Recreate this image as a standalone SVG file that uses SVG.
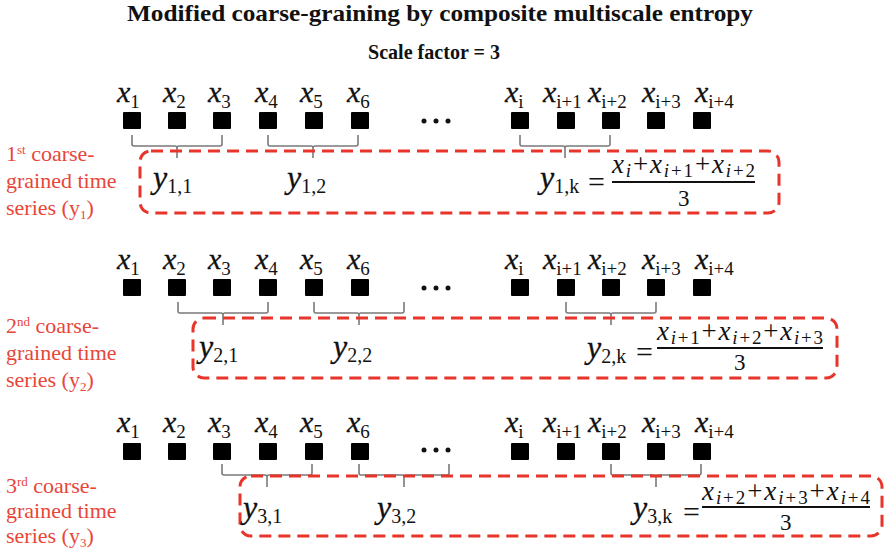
<svg xmlns="http://www.w3.org/2000/svg" xmlns:xlink="http://www.w3.org/1999/xlink" width="885" height="555" viewBox="0 0 885 555">
  <style>
    .title { font-family: "Liberation Serif", "Times New Roman", serif; font-weight: bold; fill: #111; }
    .xv { font-family: "Liberation Serif", "Times New Roman", serif; font-style: italic; font-size: 30px; fill: #111; stroke: #111; stroke-width: 0.3; }
    .xs { font-style: normal; font-size: 19px; stroke-width: 0; }
    .yv { font-family: "Liberation Serif", "Times New Roman", serif; font-style: italic; font-size: 32px; fill: #111; stroke: #111; stroke-width: 0.3; }
    .ys { font-style: normal; font-size: 20px; stroke-width: 0; }
    .num { font-family: "Liberation Serif", "Times New Roman", serif; font-style: italic; font-size: 27px; fill: #111; }
    .ns { font-size: 19px; }
    .up { font-style: normal; }
    .eq { font-family: "Liberation Serif", "Times New Roman", serif; font-size: 30px; fill: #111; }
    .den { font-family: "Liberation Serif", "Times New Roman", serif; font-size: 23px; fill: #111; }
    .lbl { font-family: "Liberation Serif", "Times New Roman", serif; font-size: 22px; fill: #e8463a; }
    .sup { font-size: 13px; }
    .bracket { fill: none; stroke: #7a7a7a; stroke-width: 1.6; }
    .box { fill: none; stroke: #e8342a; stroke-width: 3; stroke-dasharray: 12 7; }
    .bar { stroke: #111; stroke-width: 1.8; }
  </style>
  <defs>
    <rect id="sq" width="18" height="17" rx="1" fill="#000"/>
    <path id="br" d="M0 0 V9 Q0 11 2 11 H43 Q45 11 45 13 V23 M45 13 Q45 11 47 11 H88 Q90 11 90 9 V0"/>
    <g id="dots" fill="#111">
      <circle cx="0" cy="0" r="2.5"/>
      <circle cx="12" cy="0" r="2.5"/>
      <circle cx="24" cy="0" r="2.5"/>
    </g>
  </defs>

  <g id="title">
    <text class="title" x="127" y="21" font-size="24" textLength="626" lengthAdjust="spacingAndGlyphs">Modified coarse-graining by composite multiscale entropy</text>
    <text class="title" x="368" y="59" font-size="20" textLength="132" lengthAdjust="spacingAndGlyphs">Scale factor = 3</text>
  </g>

  <!-- Row 1: original series, scale 3, start at x1 -->
  <g id="row1">
    <g id="row1-samples">
      <use xlink:href="#sq" x="123" y="112"/><use xlink:href="#sq" x="168" y="112"/><use xlink:href="#sq" x="213" y="112"/>
      <use xlink:href="#sq" x="259" y="112"/><use xlink:href="#sq" x="305" y="112"/><use xlink:href="#sq" x="351" y="112"/>
      <use xlink:href="#dots" x="424" y="121"/>
      <use xlink:href="#sq" x="511" y="112"/><use xlink:href="#sq" x="557" y="112"/><use xlink:href="#sq" x="602" y="112"/>
      <use xlink:href="#sq" x="647" y="112"/><use xlink:href="#sq" x="693" y="112"/>
    </g>
    <g id="row1-labels">
      <text class="xv" x="117" y="102">x<tspan class="xs" dy="6">1</tspan></text>
      <text class="xv" x="163" y="102">x<tspan class="xs" dy="6">2</tspan></text>
      <text class="xv" x="208" y="102">x<tspan class="xs" dy="6">3</tspan></text>
      <text class="xv" x="255" y="102">x<tspan class="xs" dy="6">4</tspan></text>
      <text class="xv" x="300" y="102">x<tspan class="xs" dy="6">5</tspan></text>
      <text class="xv" x="347" y="102">x<tspan class="xs" dy="6">6</tspan></text>
      <text class="xv" x="505" y="102">x<tspan class="xs" dy="6">i</tspan></text>
      <text class="xv" x="543" y="102">x<tspan class="xs" dy="6">i+1</tspan></text>
      <text class="xv" x="588" y="102">x<tspan class="xs" dy="6">i+2</tspan></text>
      <text class="xv" x="642" y="102">x<tspan class="xs" dy="6">i+3</tspan></text>
      <text class="xv" x="695" y="102">x<tspan class="xs" dy="6">i+4</tspan></text>
    </g>
  </g>

  <!-- Row 2: shifted by one sample -->
  <g id="row2">
    <g id="row2-samples">
      <use xlink:href="#sq" x="123" y="279"/><use xlink:href="#sq" x="168" y="279"/><use xlink:href="#sq" x="213" y="279"/>
      <use xlink:href="#sq" x="259" y="279"/><use xlink:href="#sq" x="305" y="279"/><use xlink:href="#sq" x="351" y="279"/>
      <use xlink:href="#dots" x="424" y="288"/>
      <use xlink:href="#sq" x="511" y="279"/><use xlink:href="#sq" x="557" y="279"/><use xlink:href="#sq" x="602" y="279"/>
      <use xlink:href="#sq" x="647" y="279"/><use xlink:href="#sq" x="693" y="279"/>
    </g>
    <g id="row2-labels">
      <text class="xv" x="117" y="269">x<tspan class="xs" dy="6">1</tspan></text>
      <text class="xv" x="163" y="269">x<tspan class="xs" dy="6">2</tspan></text>
      <text class="xv" x="208" y="269">x<tspan class="xs" dy="6">3</tspan></text>
      <text class="xv" x="255" y="269">x<tspan class="xs" dy="6">4</tspan></text>
      <text class="xv" x="300" y="269">x<tspan class="xs" dy="6">5</tspan></text>
      <text class="xv" x="347" y="269">x<tspan class="xs" dy="6">6</tspan></text>
      <text class="xv" x="505" y="269">x<tspan class="xs" dy="6">i</tspan></text>
      <text class="xv" x="543" y="269">x<tspan class="xs" dy="6">i+1</tspan></text>
      <text class="xv" x="588" y="269">x<tspan class="xs" dy="6">i+2</tspan></text>
      <text class="xv" x="642" y="269">x<tspan class="xs" dy="6">i+3</tspan></text>
      <text class="xv" x="695" y="269">x<tspan class="xs" dy="6">i+4</tspan></text>
    </g>
  </g>

  <!-- Row 3: shifted by two samples -->
  <g id="row3">
    <g id="row3-samples">
      <use xlink:href="#sq" x="123" y="443"/><use xlink:href="#sq" x="168" y="443"/><use xlink:href="#sq" x="213" y="443"/>
      <use xlink:href="#sq" x="259" y="443"/><use xlink:href="#sq" x="305" y="443"/><use xlink:href="#sq" x="351" y="443"/>
      <use xlink:href="#dots" x="424" y="450"/>
      <use xlink:href="#sq" x="511" y="443"/><use xlink:href="#sq" x="557" y="443"/><use xlink:href="#sq" x="602" y="443"/>
      <use xlink:href="#sq" x="647" y="443"/><use xlink:href="#sq" x="693" y="443"/>
    </g>
    <g id="row3-labels">
      <text class="xv" x="117" y="432">x<tspan class="xs" dy="6">1</tspan></text>
      <text class="xv" x="163" y="432">x<tspan class="xs" dy="6">2</tspan></text>
      <text class="xv" x="208" y="432">x<tspan class="xs" dy="6">3</tspan></text>
      <text class="xv" x="255" y="432">x<tspan class="xs" dy="6">4</tspan></text>
      <text class="xv" x="300" y="432">x<tspan class="xs" dy="6">5</tspan></text>
      <text class="xv" x="347" y="432">x<tspan class="xs" dy="6">6</tspan></text>
      <text class="xv" x="505" y="432">x<tspan class="xs" dy="6">i</tspan></text>
      <text class="xv" x="543" y="432">x<tspan class="xs" dy="6">i+1</tspan></text>
      <text class="xv" x="588" y="432">x<tspan class="xs" dy="6">i+2</tspan></text>
      <text class="xv" x="642" y="432">x<tspan class="xs" dy="6">i+3</tspan></text>
      <text class="xv" x="695" y="432">x<tspan class="xs" dy="6">i+4</tspan></text>
    </g>
  </g>

  <!-- Averaging brackets: each groups three consecutive samples -->
  <g id="connectors" class="bracket">
    <use xlink:href="#br" x="132" y="135"/>
    <use xlink:href="#br" x="268" y="135"/>
    <use xlink:href="#br" x="520" y="135"/>
    <use xlink:href="#br" x="178" y="302"/>
    <use xlink:href="#br" x="314" y="302"/>
    <use xlink:href="#br" x="566" y="302"/>
    <use xlink:href="#br" x="222" y="464"/>
    <use xlink:href="#br" x="359" y="464"/>
    <use xlink:href="#br" x="611" y="464"/>
  </g>

  <!-- Coarse-grained series 1 -->
  <g id="series1">
    <rect class="box" x="140" y="151" width="639" height="62" rx="11"/>
    <text class="lbl" x="6" y="161">1<tspan class="sup" dy="-7">st</tspan><tspan dy="7"> coarse-</tspan></text>
    <text class="lbl" x="6" y="188">grained time</text>
    <text class="lbl" x="6" y="215">series (y<tspan class="sup" dy="4">1</tspan><tspan dy="-4">)</tspan></text>
    <text class="yv" x="153" y="188">y<tspan class="ys" dy="5">1,1</tspan></text>
    <text class="yv" x="287" y="188">y<tspan class="ys" dy="5">1,2</tspan></text>
    <text class="yv" x="540" y="188">y<tspan class="ys" dy="5">1,k</tspan></text>
    <text class="eq" x="588" y="192">=</text>
    <text class="num" x="612" y="173" textLength="143" lengthAdjust="spacing">x<tspan class="ns" dy="4">i</tspan><tspan class="up" dy="-4">+</tspan>x<tspan class="ns" dy="4">i<tspan class="up">+1</tspan></tspan><tspan class="up" dy="-4">+</tspan>x<tspan class="ns" dy="4">i<tspan class="up">+2</tspan></tspan></text>
    <line class="bar" x1="612" y1="182" x2="755" y2="182"/>
    <text class="den" x="678" y="206">3</text>
  </g>

  <!-- Coarse-grained series 2 -->
  <g id="series2">
    <rect class="box" x="193" y="318" width="644" height="60" rx="11"/>
    <text class="lbl" x="6" y="333">2<tspan class="sup" dy="-7">nd</tspan><tspan dy="7"> coarse-</tspan></text>
    <text class="lbl" x="6" y="360">grained time</text>
    <text class="lbl" x="6" y="387">series (y<tspan class="sup" dy="4">2</tspan><tspan dy="-4">)</tspan></text>
    <text class="yv" x="199" y="357">y<tspan class="ys" dy="5">2,1</tspan></text>
    <text class="yv" x="333" y="357">y<tspan class="ys" dy="5">2,2</tspan></text>
    <text class="yv" x="587" y="358">y<tspan class="ys" dy="5">2,k</tspan></text>
    <text class="eq" x="636" y="362">=</text>
    <text class="num" x="657" y="340" textLength="166" lengthAdjust="spacing">x<tspan class="ns" dy="4">i<tspan class="up">+1</tspan></tspan><tspan class="up" dy="-4">+</tspan>x<tspan class="ns" dy="4">i<tspan class="up">+2</tspan></tspan><tspan class="up" dy="-4">+</tspan>x<tspan class="ns" dy="4">i<tspan class="up">+3</tspan></tspan></text>
    <line class="bar" x1="657" y1="348" x2="823" y2="348"/>
    <text class="den" x="734" y="370">3</text>
  </g>

  <!-- Coarse-grained series 3 -->
  <g id="series3">
    <rect class="box" x="240" y="476" width="642" height="60" rx="11"/>
    <text class="lbl" x="6" y="493">3<tspan class="sup" dy="-7">rd</tspan><tspan dy="7"> coarse-</tspan></text>
    <text class="lbl" x="6" y="518">grained time</text>
    <text class="lbl" x="6" y="543">series (y<tspan class="sup" dy="4">3</tspan><tspan dy="-4">)</tspan></text>
    <text class="yv" x="243" y="518">y<tspan class="ys" dy="5">3,1</tspan></text>
    <text class="yv" x="377" y="518">y<tspan class="ys" dy="5">3,2</tspan></text>
    <text class="yv" x="633" y="518">y<tspan class="ys" dy="5">3,k</tspan></text>
    <text class="eq" x="683" y="522">=</text>
    <text class="num" x="702" y="500" textLength="168" lengthAdjust="spacing">x<tspan class="ns" dy="4">i<tspan class="up">+2</tspan></tspan><tspan class="up" dy="-4">+</tspan>x<tspan class="ns" dy="4">i<tspan class="up">+3</tspan></tspan><tspan class="up" dy="-4">+</tspan>x<tspan class="ns" dy="4">i<tspan class="up">+4</tspan></tspan></text>
    <line class="bar" x1="702" y1="507" x2="870" y2="507"/>
    <text class="den" x="780" y="530">3</text>
  </g>
</svg>
